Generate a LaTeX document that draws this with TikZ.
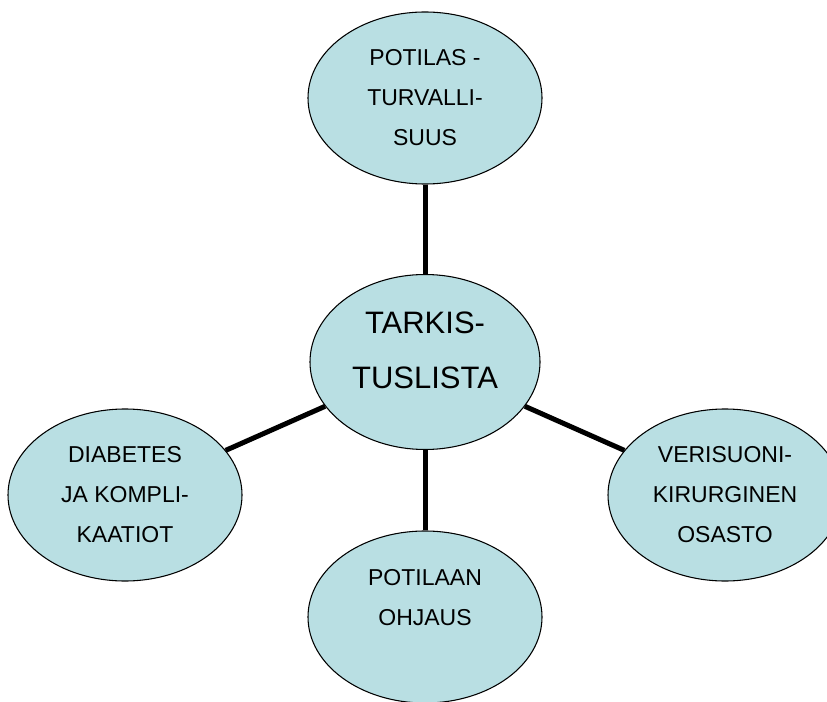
\documentclass[tikz,border=0pt]{standalone}
\usepackage{fontspec}
\setmainfont{Liberation Sans}
\usepackage{tikz}
\usetikzlibrary{shapes,positioning}
\usepackage{xcolor}
\definecolor{bubble}{RGB}{185, 223, 227}
\tikzstyle{topic} = [ellipse, draw=black, line width=0.8pt, fill=bubble, inner sep=0pt, minimum width=175.5pt, minimum height=129pt, align=center, font=\fontsize{17.25}{30}\selectfont]
\tikzstyle{hub} = [topic, minimum width=172.5pt, minimum height=131.25pt, font=\fontsize{23.25}{41.25}\selectfont]
\tikzstyle{link} = [line width=3.75pt, color=black]

\begin{document}
\begin{tikzpicture}[x=0.75pt, y=-0.75pt]
    \useasboundingbox (0,0) rectangle (827,702);
    \clip (0,0) rectangle (827,702);

    % Centre
    \node[hub] (list) at (425,362) {TARKIS-\\TUSLISTA\\[-23.25pt]\mbox{}};

    % Topics
    \node[topic] (safety) at (425,98) {POTILAS -\\TURVALLI-\\SUUS};
    \node[topic] (diabetes) at (125,495) {DIABETES\\JA KOMPLI-\\KAATIOT};
    \node[topic] (ward) at (725,495) {VERISUONI-\\KIRURGINEN\\OSASTO};
    \node[topic] (guidance) at (425,617) {POTILAAN\\OHJAUS\\\mbox{}};

    % Links
    \draw[link] (safety) -- (list);
    \draw[link] (diabetes) -- (list);
    \draw[link] (ward) -- (list);
    \draw[link] (guidance) -- (list);
\end{tikzpicture}
\end{document}
